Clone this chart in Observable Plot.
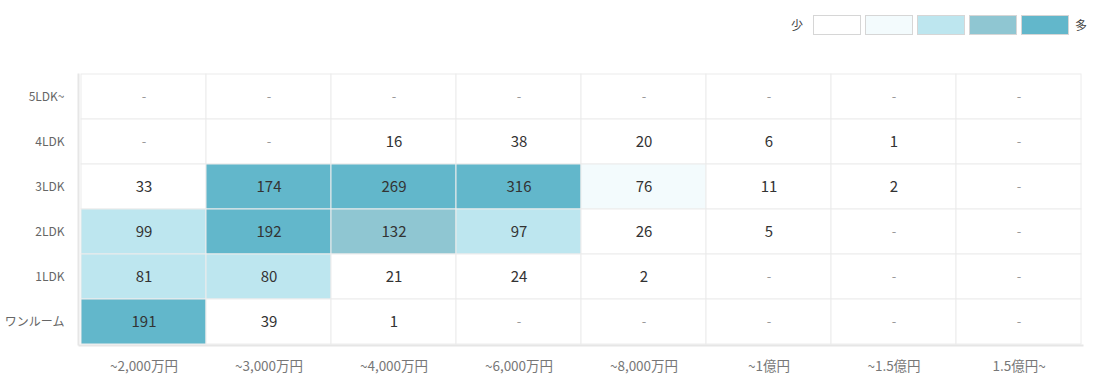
<!DOCTYPE html>
<html>
<head>
<meta charset="utf-8">
<script src="https://cdn.jsdelivr.net/npm/d3@7"></script>
<script src="https://cdn.jsdelivr.net/npm/@observablehq/plot@0.6"></script>
<style>
  body { margin: 0; background: #fff; font-family: "Noto Sans CJK JP", "Noto Sans", sans-serif; }
  #legend { position: relative; height: 48px; width: 1093px; }
  #legend .sw { position: absolute; top: 15px; width: 46px; height: 18px; border: 1px solid #d6d6d6; }
  #legend .lbl { position: absolute; top: 16px; font-size: 12px; color: #444; line-height: 18px; }
</style>
</head>
<body>
<div id="legend"></div>
<div id="chart"></div>
<script>
const priceBands = ["~2,000万円", "~3,000万円", "~4,000万円", "~6,000万円", "~8,000万円", "~1億円", "~1.5億円", "1.5億円~"];
const layouts = ["5LDK~", "4LDK", "3LDK", "2LDK", "1LDK", "ワンルーム"];
const counts5LDK = [null, null, null, null, null, null, null, null];
const counts4LDK = [null, null, 16, 38, 20, 6, 1, null];
const counts3LDK = [33, 174, 269, 316, 76, 11, 2, null];
const counts2LDK = [99, 192, 132, 97, 26, 5, null, null];
const counts1LDK = [81, 80, 21, 24, 2, null, null, null];
const countsOneRoom = [191, 39, 1, null, null, null, null, null];
const legendColors = ["#ffffff", "#f3fbfd", "#bde6ef", "#8fc6d2", "#62b7cb"];
const thresholds = [50, 80, 130, 170];

const rows = [counts5LDK, counts4LDK, counts3LDK, counts2LDK, counts1LDK, countsOneRoom];
const data = [];
rows.forEach((r, i) => r.forEach((v, j) => data.push({layout: layouts[i], price: priceBands[j], value: v})));

const color = d3.scaleThreshold().domain(thresholds).range(legendColors);

// legend
const lg = document.getElementById("legend");
const x0 = 813;
legendColors.forEach((c, i) => {
  const d = document.createElement("div");
  d.className = "sw";
  d.style.left = (x0 + i * 52) + "px";
  d.style.background = c;
  lg.appendChild(d);
});
const l1 = document.createElement("div"); l1.className = "lbl"; l1.textContent = "少"; l1.style.left = "791px"; lg.appendChild(l1);
const l2 = document.createElement("div"); l2.className = "lbl"; l2.textContent = "多"; l2.style.left = "1075px"; lg.appendChild(l2);

const chart = Plot.plot({
  width: 1093,
  height: 334,
  marginTop: 26,
  marginBottom: 38,
  marginLeft: 79,
  marginRight: 11,
  style: { fontFamily: '"Noto Sans CJK JP", "Noto Sans", sans-serif', background: "#fff" },
  x: { domain: priceBands, padding: 0, label: null },
  y: { domain: layouts, padding: 0, label: null },
  marks: [
    Plot.cell(data, { x: "price", y: "layout", fill: d => d.value == null ? "#ffffff" : color(d.value), stroke: "#ececec", strokeWidth: 1 }),
    Plot.frame({ anchor: "left", stroke: "#e6e6e6", strokeWidth: 2, insetLeft: -1 }),
    Plot.frame({ anchor: "bottom", stroke: "#e6e6e6", strokeWidth: 2, insetBottom: -1 }),
    Plot.text(data, { x: "price", y: "layout", text: d => d.value == null ? "-" : String(d.value), fill: d => d.value == null ? "#999" : "#333", fontSize: d => d.value == null ? 13 : 15 }),
    Plot.axisX({ tickSize: 0, tickPadding: 17, fontSize: 13.5, fill: "#777", label: null }),
    Plot.axisY({ tickSize: 0, tickPadding: 15, fontSize: 12, fill: "#666", label: null })
  ]
});
document.getElementById("chart").appendChild(chart);
</script>
</body>
</html>
